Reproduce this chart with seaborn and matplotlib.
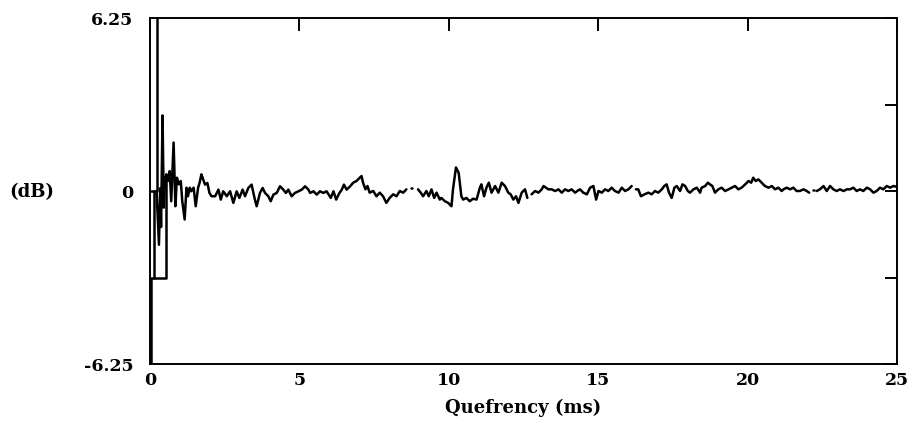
import numpy as np
import pandas as pd
import matplotlib
matplotlib.use("Agg")
import matplotlib.pyplot as plt
import seaborn as sns

# ---- data (quefrency in ms, level in dB); NaN = break in the trace
onset_ms = [0.04, 0.04, 0.55, 0.55, np.nan,
            0.00, 0.22, 0.22, np.nan,
            0.13, 0.13, np.nan]
onset_db = [-7.0, -3.15, -3.15, 0.60, np.nan,
            0.00, 0.00, 7.00, np.nan,
            -3.15, 0.00, np.nan]

early_ms = [0.22, 0.30, 0.34, 0.37, 0.42, 0.46, 0.50, 0.55, 0.60, 0.66, 0.71, 0.79, 0.85,
            0.90, 0.97, 1.03, 1.08, 1.16, 1.22, 1.27, 1.33, 1.38, 1.46, 1.53, 1.61, 1.66,
            1.72, 1.76, 1.84, 1.92, 1.99, 2.06]
early_db = [0.00, -1.94, 0.10, -1.30, 2.73, -0.60, 0.40, 0.60, 0.36, 0.72, -0.37, 1.75, -0.55,
            0.48, 0.24, 0.36, -0.37, -1.03, 0.12, -0.19, 0.12, -0.01, 0.12, -0.55, 0.12, 0.30,
            0.60, 0.48, 0.23, 0.29, -0.07, -0.19]

mid_ms = [2.18, 2.29, 2.37, 2.45, 2.57, 2.68, 2.79, 2.90, 2.99, 3.10, 3.18, 3.29, 3.40, 3.51,
          3.57, 3.68, 3.77, 3.85, 3.96, 4.04, 4.13, 4.24, 4.35, 4.46, 4.55, 4.63, 4.74, 4.85,
          4.97, 5.08, 5.19, 5.30, 5.36, 5.47, 5.58, 5.69, 5.80, 5.91, 6.05, 6.14, 6.23, 6.34,
          6.42, 6.49, 6.58, 6.70, 6.80, 6.91, 7.02, 7.08, 7.13, 7.21, 7.28, 7.35, 7.47, 7.58,
          7.69, 7.80, 7.91, 8.02, 8.14, 8.25, 8.36, 8.47, 8.53, 8.58, np.nan,
          8.72, 8.76, np.nan,
          8.97, 9.06, 9.14, 9.25, 9.33, 9.42, 9.51, 9.59, 9.70, 9.75, 9.87, 9.98, 10.09, 10.14,
          10.24, 10.33, 10.42, 10.48, 10.59, 10.70, 10.81, 10.93, 11.04, 11.09, 11.18, 11.26,
          11.34, 11.43, 11.55, 11.66, 11.77, 11.88, 11.99, 12.07, 12.16, 12.25, 12.33, 12.44,
          12.55, 12.63, np.nan]
mid_db = [-0.19, 0.05, -0.31, -0.01, -0.19, -0.01, -0.43, -0.01, -0.25, 0.05, -0.19, 0.11, 0.23, -0.31,
          -0.55, -0.07, 0.11, -0.07, -0.19, -0.37, -0.13, -0.07, 0.17, 0.05, -0.07, 0.05, -0.19, -0.07,
          -0.01, 0.05, 0.17, 0.05, -0.07, -0.01, -0.13, -0.01, -0.07, -0.01, -0.25, -0.01, -0.31, -0.07,
          0.05, 0.23, 0.05, 0.17, 0.30, 0.36, 0.48, 0.54, 0.30, 0.06, 0.18, -0.06, 0.00, -0.19,
          -0.06, -0.19, -0.43, -0.25, -0.12, -0.19, 0.00, -0.06, 0.00, 0.06, np.nan,
          0.12, 0.12, np.nan,
          0.06, -0.06, -0.19, 0.00, -0.19, 0.06, -0.25, -0.06, -0.31, -0.25, -0.37, -0.43, -0.55, 0.06,
          0.85, 0.66, -0.19, -0.31, -0.25, -0.37, -0.28, -0.31, 0.12, 0.24, -0.19, 0.12,
          0.30, -0.06, 0.18, -0.06, 0.30, 0.18, -0.06, -0.12, -0.31, -0.19, -0.43, -0.06,
          0.06, -0.25, np.nan]

late_ms = [12.77, 12.89, 13.00, 13.11, 13.17, 13.25, 13.33, 13.44, 13.56, 13.67, 13.78, 13.89,
           14.00, 14.11, 14.23, 14.30, 14.39, 14.50, 14.62, 14.73, 14.84, 14.93, 15.01, 15.12,
           15.23, 15.34, 15.45, 15.56, 15.68, 15.79, 15.90, 16.01, 16.12, np.nan,
           16.26, 16.34, 16.43, 16.55, 16.68, 16.79, 16.90, 17.01, 17.13, 17.21, 17.29, 17.37,
           17.46, 17.55, 17.63, 17.74, 17.82, 17.91, 18.00, 18.07, 18.19, 18.30, 18.41, 18.46,
           18.58, 18.67, 18.74, 18.82, 18.91, 19.02, 19.13, 19.25, 19.36, 19.47, 19.58, 19.69,
           19.80, 19.92, 20.03, 20.12, 20.19, 20.27, 20.36, 20.47, 20.58, 20.70, 20.81, 20.92,
           21.03, 21.14, 21.20, 21.31, 21.42, 21.53, 21.64, 21.75, 21.87, 21.98, 22.06, np.nan,
           22.18, 22.22, np.nan,
           22.31, 22.42, 22.54, 22.65, 22.76, 22.87, 22.98, 23.09, 23.21, 23.32, 23.43, 23.54,
           23.65, 23.76, 23.87, 23.99, 24.10, 24.21, 24.32, 24.43, 24.54, 24.66, 24.77, 24.88,
           25.00]
late_db = [-0.12, 0.00, -0.06, 0.06, 0.18, 0.12, 0.06, 0.06, 0.00, 0.06, -0.06, 0.06,
           0.00, 0.06, -0.06, 0.00, 0.06, -0.06, -0.12, 0.12, 0.18, -0.31, 0.00, -0.06,
           0.06, 0.00, 0.12, 0.00, -0.06, 0.12, 0.00, 0.06, 0.18, np.nan,
           0.06, 0.06, -0.19, -0.12, -0.06, -0.12, 0.00, -0.06, 0.06, 0.18, 0.24, -0.06,
           -0.25, 0.12, 0.18, 0.00, 0.24, 0.18, 0.00, -0.06, 0.06, 0.12, -0.06, 0.12,
           0.18, 0.30, 0.24, 0.18, -0.06, 0.06, 0.12, 0.00, 0.06, 0.12, 0.18, 0.06,
           0.12, 0.24, 0.36, 0.30, 0.48, 0.36, 0.42, 0.30, 0.18, 0.12, 0.18, 0.06,
           0.12, 0.00, 0.06, 0.12, 0.06, 0.12, 0.00, 0.00, 0.06, 0.00, -0.06, np.nan,
           0.02, 0.02, np.nan,
           0.00, 0.06, 0.18, 0.00, 0.18, 0.06, 0.00, 0.06, 0.00, 0.06, 0.06, 0.12,
           0.00, 0.06, 0.00, 0.12, 0.06, -0.06, 0.00, 0.12, 0.06, 0.18, 0.12, 0.18,
           0.15]

x_ticks = [0, 5, 10, 15, 20, 25]
y_ticks = [-6.25, -3.125, 0, 3.125, 6.25]
y_tick_labels = ["-6.25", "", "0", "", "6.25"]

# ---- assemble (onset structure, then the continuous trace with its print gaps)
ms = onset_ms + early_ms + mid_ms + late_ms
db = onset_db + early_db + mid_db + late_db
df = pd.DataFrame({"ms": ms, "db": db})
df["seg"] = df["ms"].isna().cumsum()
df = df.dropna().reset_index(drop=True)

sns.set_theme(style="white")
plt.rcParams["font.family"] = ["DejaVu Serif"]

fig = plt.figure(figsize=(9.14, 4.39), dpi=100)
ax = fig.add_axes([150/914, 1-365/439, (897-150)/914, (365-19)/439])

sns.lineplot(data=df, x="ms", y="db", units="seg", estimator=None, sort=False,
             color="black", linewidth=1.8, ax=ax, legend=False)

ax.set_xlim(0, 25)
ax.set_ylim(-6.25, 6.25)
ax.set_xticks(x_ticks)
ax.set_xticklabels([str(t) for t in x_ticks])
ax.set_yticks(y_ticks)
ax.set_yticklabels(y_tick_labels)
ax.tick_params(axis="both", direction="in", length=9, width=1.4, colors="black",
               top=True, right=True, labelsize=12.5)
ax.tick_params(axis="x", pad=5)
ax.tick_params(axis="y", pad=12)
for lab in ax.get_xticklabels() + ax.get_yticklabels():
    lab.set_fontweight("bold")
for s in ax.spines.values():
    s.set_color("black")
    s.set_linewidth(1.4)

ax.set_xlabel("Quefrency (ms)", fontsize=13, fontweight="bold", color="black")
ax.xaxis.set_label_coords(0.5, -0.124)
ax.xaxis.label.set_va("center")
ax.set_ylabel("(dB)", fontsize=13, fontweight="bold", rotation=0, color="black")
ax.yaxis.set_label_coords(-0.158, 0.5)
ax.yaxis.label.set_va("center")
ax.yaxis.label.set_ha("center")

fig.savefig("out.png", dpi=100, facecolor="white")
